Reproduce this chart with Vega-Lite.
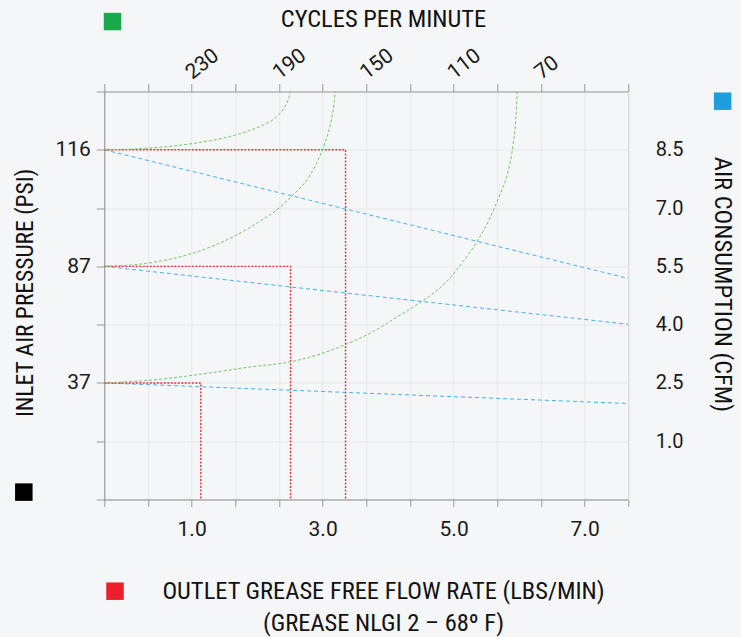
{
  "$schema": "https://vega.github.io/schema/vega-lite/v6.json",
  "width": 524,
  "height": 408,
  "autosize": {"type": "none"},
  "padding": {"left": 104.3, "top": 91.5, "right": 112.7, "bottom": 137.5},
  "background": "#f5f6f7",
  "config": {
    "view": {"stroke": null},
    "font": "Roboto",
    "axis": {
      "labelFont": "Roboto",
      "labelFontSize": 21,
      "labelColor": "#1a1a1a",
      "titleFont": "'Noto Sans Condensed', 'Roboto Condensed', 'DejaVu Sans Condensed', 'Liberation Sans Narrow', 'Roboto', sans-serif",
      "titleFontSize": 24.5,
      "titleFontWeight": "normal",
      "titleColor": "#111111",
      "domainColor": "#8c8c8c",
      "tickColor": "#9a9a9a",
      "gridColor": "#e8e9ea",
      "labelOverlap": false,
      "labelBound": false,
      "labelFlush": false
    }
  },
  "datasets": {
    "blue": [
      {"psi": 116, "flow": -0.33333, "cfm": 8.5},
      {"psi": 116, "flow": 7.66667, "cfm": 5.19},
      {"psi": 87, "flow": -0.33333, "cfm": 5.5},
      {"psi": 87, "flow": 7.66667, "cfm": 4.01},
      {"psi": 37, "flow": -0.33333, "cfm": 2.5},
      {"psi": 37, "flow": 7.66667, "cfm": 1.97}
    ],
    "red": [
      {"psi": 116, "i": 0, "flow": -0.33333, "cfm": 8.5},
      {"psi": 116, "i": 1, "flow": 3.35, "cfm": 8.5},
      {"psi": 116, "i": 2, "flow": 3.35, "cfm": -0.5},
      {"psi": 87, "i": 0, "flow": -0.33333, "cfm": 5.5},
      {"psi": 87, "i": 1, "flow": 2.51, "cfm": 5.5},
      {"psi": 87, "i": 2, "flow": 2.51, "cfm": -0.5},
      {"psi": 37, "i": 0, "flow": -0.33333, "cfm": 2.5},
      {"psi": 37, "i": 1, "flow": 1.14, "cfm": 2.5},
      {"psi": 37, "i": 2, "flow": 1.14, "cfm": -0.5}
    ],
    "keys": [
      {"key": "cpm", "flow": -0.208, "cfm": 11.8},
      {"key": "cfm", "flow": 9.107, "cfm": 9.75},
      {"key": "psi", "flow": -1.562, "cfm": -0.31},
      {"key": "flow", "flow": -0.17, "cfm": -2.86}
    ],
    "green": [
      {"psi": 116, "i": 0, "cpm": 270, "cfm": 8.5},
      {"psi": 116, "i": 1, "cpm": 256.7, "cfm": 8.52},
      {"psi": 116, "i": 2, "cpm": 241.4, "cfm": 8.58},
      {"psi": 116, "i": 3, "cpm": 226.2, "cfm": 8.69},
      {"psi": 116, "i": 4, "cpm": 214.0, "cfm": 8.82},
      {"psi": 116, "i": 5, "cpm": 204.8, "cfm": 8.97},
      {"psi": 116, "i": 6, "cpm": 197.2, "cfm": 9.14},
      {"psi": 116, "i": 7, "cpm": 191.1, "cfm": 9.35},
      {"psi": 116, "i": 8, "cpm": 187.3, "cfm": 9.61},
      {"psi": 116, "i": 9, "cpm": 185.3, "cfm": 9.87},
      {"psi": 116, "i": 10, "cpm": 184.7, "cfm": 10},
      {"psi": 87, "i": 0, "cpm": 270, "cfm": 5.5},
      {"psi": 87, "i": 1, "cpm": 249.1, "cfm": 5.59},
      {"psi": 87, "i": 2, "cpm": 226.2, "cfm": 5.9},
      {"psi": 87, "i": 3, "cpm": 211.0, "cfm": 6.26},
      {"psi": 87, "i": 4, "cpm": 200.2, "cfm": 6.61},
      {"psi": 87, "i": 5, "cpm": 191.1, "cfm": 6.95},
      {"psi": 87, "i": 6, "cpm": 183.5, "cfm": 7.34},
      {"psi": 87, "i": 7, "cpm": 177.3, "cfm": 7.72},
      {"psi": 87, "i": 8, "cpm": 172.8, "cfm": 8.15},
      {"psi": 87, "i": 9, "cpm": 169.0, "cfm": 8.67},
      {"psi": 87, "i": 10, "cpm": 166.7, "cfm": 9.09},
      {"psi": 87, "i": 11, "cpm": 165.2, "cfm": 9.52},
      {"psi": 87, "i": 12, "cpm": 164.2, "cfm": 10},
      {"psi": 37, "i": 0, "cpm": 270, "cfm": 2.5},
      {"psi": 37, "i": 1, "cpm": 249.1, "cfm": 2.57},
      {"psi": 37, "i": 2, "cpm": 226.2, "cfm": 2.72},
      {"psi": 37, "i": 3, "cpm": 203.3, "cfm": 2.91},
      {"psi": 37, "i": 4, "cpm": 185.0, "cfm": 3.04},
      {"psi": 37, "i": 5, "cpm": 168.2, "cfm": 3.3},
      {"psi": 37, "i": 6, "cpm": 159.0, "cfm": 3.5},
      {"psi": 37, "i": 7, "cpm": 146.9, "cfm": 3.82},
      {"psi": 37, "i": 8, "cpm": 135.6, "cfm": 4.21},
      {"psi": 37, "i": 9, "cpm": 124.7, "cfm": 4.59},
      {"psi": 37, "i": 10, "cpm": 113.3, "cfm": 5.1},
      {"psi": 37, "i": 11, "cpm": 105.7, "cfm": 5.62},
      {"psi": 37, "i": 12, "cpm": 98.8, "cfm": 6.18},
      {"psi": 37, "i": 13, "cpm": 93.4, "cfm": 6.74},
      {"psi": 37, "i": 14, "cpm": 88.9, "cfm": 7.34},
      {"psi": 37, "i": 15, "cpm": 85.1, "cfm": 7.94},
      {"psi": 37, "i": 16, "cpm": 82.8, "cfm": 8.62},
      {"psi": 37, "i": 17, "cpm": 81.5, "cfm": 9.31},
      {"psi": 37, "i": 18, "cpm": 80.9, "cfm": 10}
    ]
  },
  "layer": [
    {
      "encoding": {
        "x": {
          "field": "flow",
          "type": "quantitative",
          "scale": {"domain": [-0.33333, 7.66667], "nice": false, "zero": false},
          "axis": {
            "orient": "bottom",
            "values": [-0.33333, 0.33333, 1, 1.66667, 2.33333, 3, 3.66667, 4.33333, 5, 5.66667, 6.33333, 7, 7.66667],
            "labelExpr": "abs(datum.value-1)<0.01 ? '1.0' : abs(datum.value-3)<0.01 ? '3.0' : abs(datum.value-5)<0.01 ? '5.0' : abs(datum.value-7)<0.01 ? '7.0' : ''",
            "grid": true,
            "tickSize": 7,
            "labelPadding": 12,
            "title": ["OUTLET GREASE FREE FLOW RATE (LBS/MIN)", "(GREASE NLGI 2 – 68º F)"],
            "titleX": 278.7,
            "titleY": 91.7,
            "titleAlign": "center",
            "titleBaseline": "middle",
            "titleLineHeight": 32
          }
        },
        "y": {
          "field": "cfm",
          "type": "quantitative",
          "scale": {"domain": [-0.5, 10], "nice": false, "zero": false},
          "axis": {
            "orient": "left",
            "values": [-0.5, 1, 2.5, 4, 5.5, 7, 8.5, 10],
            "labelExpr": "datum.value == 8.5 ? '116' : datum.value == 5.5 ? '87' : datum.value == 2.5 ? '37' : ''",
            "grid": true,
            "tickSize": 8,
            "labelPadding": 6,
            "title": "INLET AIR PRESSURE (PSI)",
            "titleFontSize": 23.5,
            "titleX": -79.3,
            "titleY": 201,
            "titleAngle": -90,
            "titleAlign": "center",
            "titleBaseline": "middle"
          }
        }
      },
      "layer": [
        {
          "data": {"name": "blue"},
          "mark": {"type": "line", "color": "#45b1e6", "strokeWidth": 1, "strokeDash": [4, 3]},
          "encoding": {"detail": {"field": "psi"}}
        },
        {
          "data": {"name": "red"},
          "mark": {"type": "line", "color": "#e8323a", "strokeWidth": 1.4, "strokeDash": [2, 1.5]},
          "encoding": {"detail": {"field": "psi"}, "order": {"field": "i"}}
        },
        {
          "data": {"name": "keys"},
          "mark": {"type": "point", "shape": "square", "filled": true, "size": 306, "opacity": 1, "strokeWidth": 0},
          "encoding": {
            "color": {
              "field": "key",
              "type": "nominal",
              "scale": {"domain": ["cpm", "cfm", "psi", "flow"], "range": ["#1ba84a", "#1e9fdc", "#000000", "#ec1f2a"]},
              "legend": null
            }
          }
        }
      ]
    },
    {
      "data": {"name": "green"},
      "mark": {"type": "line", "color": "#78c267", "strokeWidth": 1, "strokeDash": [3, 2], "interpolate": "monotone"},
      "encoding": {
        "x": {
          "field": "cpm",
          "type": "quantitative",
          "scale": {"domain": [30, 270], "reverse": true, "nice": false, "zero": false},
          "axis": {
            "orient": "top",
            "values": [270, 250, 230, 210, 190, 170, 150, 130, 110, 90, 70, 50, 30],
            "labelExpr": "(datum.value >= 70 && datum.value <= 230 && (datum.value - 30) % 40 == 0) ? datum.label : ''",
            "labelAngle": -38,
            "labelAlign": "left",
            "labelBaseline": "alphabetic",
            "labelFontSize": 21,
            "tickSize": 8,
            "labelPadding": 4,
            "grid": false,
            "domainColor": "#999999",
            "title": "CYCLES PER MINUTE",
            "titleX": 278.7,
            "titleY": -72,
            "titleAlign": "center",
            "titleBaseline": "middle"
          }
        },
        "y": {
          "field": "cfm",
          "type": "quantitative",
          "scale": {"domain": [-0.5, 10], "nice": false, "zero": false},
          "axis": {
            "orient": "right",
            "values": [1, 2.5, 4, 5.5, 7, 8.5],
            "format": ".1f",
            "ticks": false,
            "labelPadding": 27,
            "labelFontSize": 20,
            "grid": false,
            "domainColor": "#d4d4d4",
            "title": "AIR CONSUMPTION (CFM)",
            "titleX": 92.7,
            "titleY": 192.5,
            "titleAngle": 90,
            "titleAlign": "center",
            "titleBaseline": "middle"
          }
        },
        "detail": {"field": "psi"},
        "order": {"field": "i"}
      }
    }
  ],
  "resolve": {"scale": {"x": "independent", "y": "independent"}}
}
